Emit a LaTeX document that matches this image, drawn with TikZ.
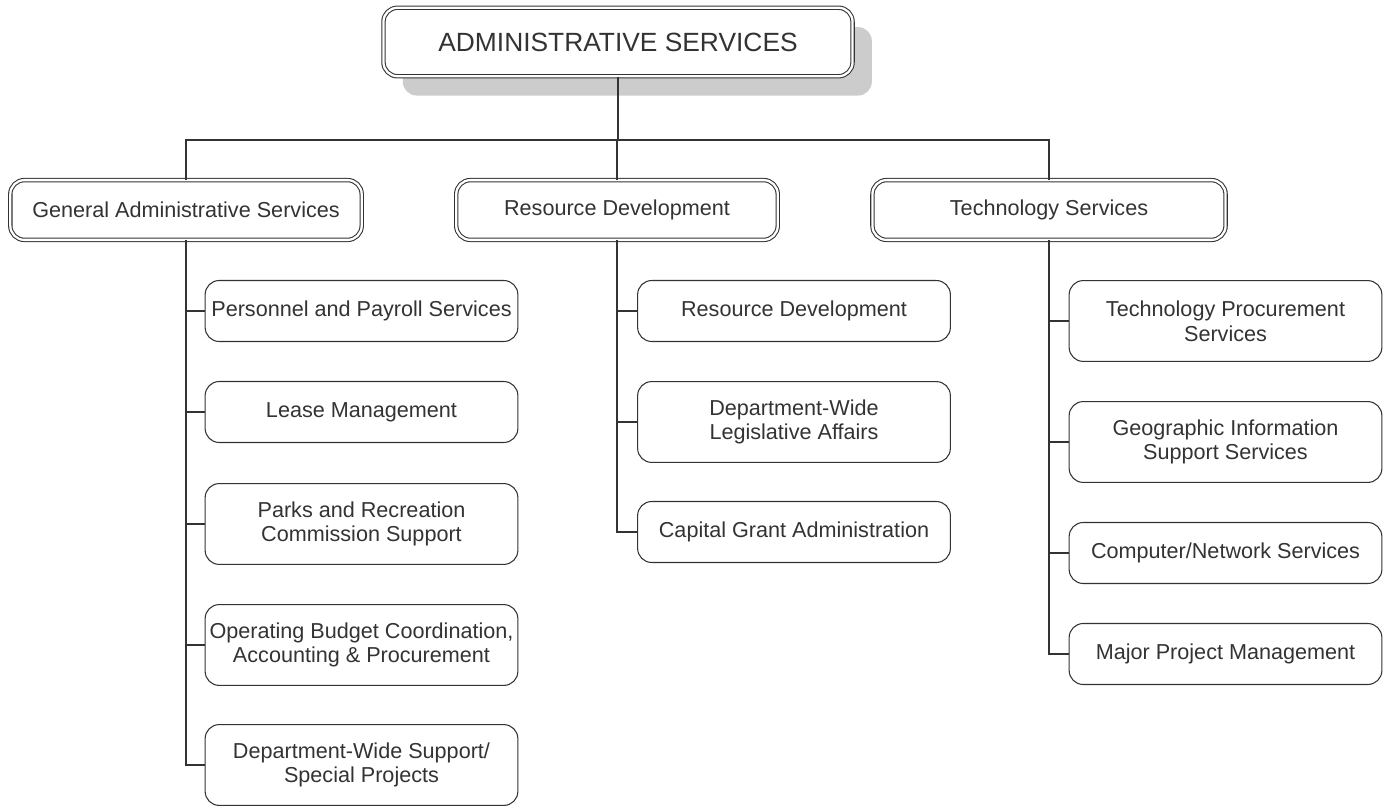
\documentclass[tikz,border=0pt]{standalone}
\usepackage{fontspec}
\setmainfont{Liberation Sans}
\usetikzlibrary{positioning, shadows}

\begin{document}
\begin{tikzpicture}[
    x=0.02cm, y=-0.02cm,
    every node/.style={rounded corners=8pt, align=center, text=black!80,
        font=\fontsize{12.3}{14}\selectfont},
    top_unit/.style={draw=black!80, line width=0.6pt, double=white, double distance=1.3pt,
        fill=white, minimum width=267pt, minimum height=39pt,
        font=\fontsize{15}{18}\selectfont,
        drop shadow={shadow xshift=11pt, shadow yshift=-11pt, fill=black!20, opacity=1}},
    division/.style={draw=black!80, line width=0.6pt, double=white, double distance=1.3pt,
        minimum height=34pt},
    unit/.style={draw=black!80, line width=0.6pt, inner xsep=1pt,
        minimum width=178pt, minimum height=34.7pt},
    unit_two/.style={unit, minimum height=46pt},
    link/.style={draw=black!80, line width=0.8pt}
]
\useasboundingbox (0,0) rectangle (1388,807);

% Direccion
\node[top_unit] (adm) at (618,42) {ADMINISTRATIVE SERVICES};

% Divisiones
\node[division, minimum width=200pt] (gas) at (186,210) {General Administrative Services};
\node[division, minimum width=183pt] (rd) at (617,210) {Resource Development};
\node[division, minimum width=201pt] (ts) at (1049,210) {Technology Services};

% Unidades
\node[unit] (g1) at (361.5,311) {Personnel and Payroll Services};
\node[unit] (g2) at (361.5,412) {Lease Management};
\node[unit_two] (g3) at (361.5,524) {Parks and Recreation\\Commission Support};
\node[unit_two] (g4) at (361.5,645) {Operating Budget Coordination,\\Accounting \& Procurement};
\node[unit_two] (g5) at (361.5,765) {Department-Wide Support/\\Special Projects};

\node[unit] (r1) at (794,311) {Resource Development};
\node[unit_two] (r2) at (794,422) {Department-Wide\\Legislative Affairs};
\node[unit] (r3) at (794,532) {Capital Grant Administration};

\node[unit_two] (t1) at (1225.5,321) {Technology Procurement\\Services};
\node[unit_two] (t2) at (1225.5,442) {Geographic Information\\Support Services};
\node[unit] (t3) at (1225.5,553) {Computer/Network Services};
\node[unit] (t4) at (1225.5,654) {Major Project Management};

% Lineas
\coordinate (hub) at (618,140);
\draw[link] (adm.south) -- (hub);
\draw[link] (hub) -| (gas.north);
\draw[link] (hub) -| (rd.north);
\draw[link] (hub) -| (ts.north);

\foreach \c in {g1,g2,g3,g4,g5}
    \draw[link] (gas.south) |- (\c.west);
\foreach \c in {r1,r2,r3}
    \draw[link] (rd.south) |- (\c.west);
\foreach \c in {t1,t2,t3,t4}
    \draw[link] (ts.south) |- (\c.west);

\end{tikzpicture}
\end{document}
